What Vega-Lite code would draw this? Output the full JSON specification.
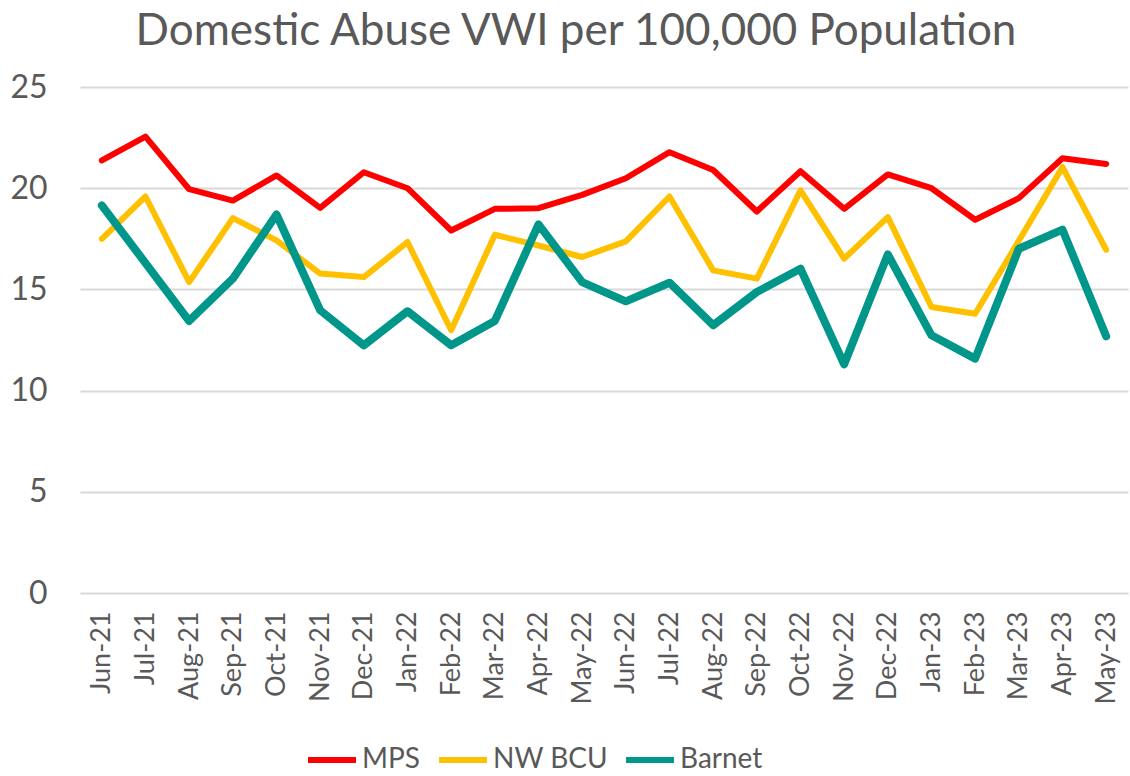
{
  "$schema": "https://vega.github.io/schema/vega-lite/v6.json",
  "autosize": {"type": "none"},
  "width": 1048,
  "height": 506,
  "padding": {"left": 80, "top": 87, "right": 2, "bottom": 183},
  "background": "white",
  "title": {
    "text": "Domestic Abuse VWI per 100,000 Population",
    "font": "Lato",
    "fontSize": 44,
    "fontWeight": "normal",
    "color": "#595959",
    "anchor": "middle",
    "dx": -28,
    "offset": 17
  },
  "config": {
    "view": {"stroke": null},
    "font": "Lato"
  },
  "data": {
    "values": [
      {"month": "Jun-21", "series": "MPS", "value": 21.37},
      {"month": "Jul-21", "series": "MPS", "value": 22.55},
      {"month": "Aug-21", "series": "MPS", "value": 19.95},
      {"month": "Sep-21", "series": "MPS", "value": 19.39},
      {"month": "Oct-21", "series": "MPS", "value": 20.63},
      {"month": "Nov-21", "series": "MPS", "value": 19.03},
      {"month": "Dec-21", "series": "MPS", "value": 20.79},
      {"month": "Jan-22", "series": "MPS", "value": 20.0},
      {"month": "Feb-22", "series": "MPS", "value": 17.91},
      {"month": "Mar-22", "series": "MPS", "value": 18.98},
      {"month": "Apr-22", "series": "MPS", "value": 19.01},
      {"month": "May-22", "series": "MPS", "value": 19.67},
      {"month": "Jun-22", "series": "MPS", "value": 20.49},
      {"month": "Jul-22", "series": "MPS", "value": 21.78},
      {"month": "Aug-22", "series": "MPS", "value": 20.9},
      {"month": "Sep-22", "series": "MPS", "value": 18.85},
      {"month": "Oct-22", "series": "MPS", "value": 20.84},
      {"month": "Nov-22", "series": "MPS", "value": 18.98},
      {"month": "Dec-22", "series": "MPS", "value": 20.68},
      {"month": "Jan-23", "series": "MPS", "value": 20.0},
      {"month": "Feb-23", "series": "MPS", "value": 18.44},
      {"month": "Mar-23", "series": "MPS", "value": 19.51},
      {"month": "Apr-23", "series": "MPS", "value": 21.48},
      {"month": "May-23", "series": "MPS", "value": 21.2},
      {"month": "Jun-21", "series": "NW BCU", "value": 17.5},
      {"month": "Jul-21", "series": "NW BCU", "value": 19.59},
      {"month": "Aug-21", "series": "NW BCU", "value": 15.36},
      {"month": "Sep-21", "series": "NW BCU", "value": 18.52},
      {"month": "Oct-21", "series": "NW BCU", "value": 17.42},
      {"month": "Nov-21", "series": "NW BCU", "value": 15.78},
      {"month": "Dec-21", "series": "NW BCU", "value": 15.61},
      {"month": "Jan-22", "series": "NW BCU", "value": 17.34},
      {"month": "Feb-22", "series": "NW BCU", "value": 12.98},
      {"month": "Mar-22", "series": "NW BCU", "value": 17.7},
      {"month": "Apr-22", "series": "NW BCU", "value": 17.17},
      {"month": "May-22", "series": "NW BCU", "value": 16.6},
      {"month": "Jun-22", "series": "NW BCU", "value": 17.37},
      {"month": "Jul-22", "series": "NW BCU", "value": 19.59},
      {"month": "Aug-22", "series": "NW BCU", "value": 15.94},
      {"month": "Sep-22", "series": "NW BCU", "value": 15.53},
      {"month": "Oct-22", "series": "NW BCU", "value": 19.89},
      {"month": "Nov-22", "series": "NW BCU", "value": 16.52},
      {"month": "Dec-22", "series": "NW BCU", "value": 18.57},
      {"month": "Jan-23", "series": "NW BCU", "value": 14.13},
      {"month": "Feb-23", "series": "NW BCU", "value": 13.8},
      {"month": "Mar-23", "series": "NW BCU", "value": 17.4},
      {"month": "Apr-23", "series": "NW BCU", "value": 21.04},
      {"month": "May-23", "series": "NW BCU", "value": 16.96},
      {"month": "Jun-21", "series": "Barnet", "value": 19.15},
      {"month": "Jul-21", "series": "Barnet", "value": 16.3},
      {"month": "Aug-21", "series": "Barnet", "value": 13.44},
      {"month": "Sep-21", "series": "Barnet", "value": 15.53},
      {"month": "Oct-21", "series": "Barnet", "value": 18.7},
      {"month": "Nov-21", "series": "Barnet", "value": 13.97},
      {"month": "Dec-21", "series": "Barnet", "value": 12.24},
      {"month": "Jan-22", "series": "Barnet", "value": 13.92},
      {"month": "Feb-22", "series": "Barnet", "value": 12.24},
      {"month": "Mar-22", "series": "Barnet", "value": 13.44},
      {"month": "Apr-22", "series": "Barnet", "value": 18.21},
      {"month": "May-22", "series": "Barnet", "value": 15.36},
      {"month": "Jun-22", "series": "Barnet", "value": 14.41},
      {"month": "Jul-22", "series": "Barnet", "value": 15.33},
      {"month": "Aug-22", "series": "Barnet", "value": 13.23},
      {"month": "Sep-22", "series": "Barnet", "value": 14.87},
      {"month": "Oct-22", "series": "Barnet", "value": 16.02},
      {"month": "Nov-22", "series": "Barnet", "value": 11.3},
      {"month": "Dec-22", "series": "Barnet", "value": 16.73},
      {"month": "Jan-23", "series": "Barnet", "value": 12.73},
      {"month": "Feb-23", "series": "Barnet", "value": 11.58},
      {"month": "Mar-23", "series": "Barnet", "value": 17.01},
      {"month": "Apr-23", "series": "Barnet", "value": 17.95},
      {"month": "May-23", "series": "Barnet", "value": 12.68}
    ]
  },
  "encoding": {
    "x": {
      "field": "month",
      "type": "ordinal",
      "sort": null,
      "scale": {"type": "point", "padding": 0.5},
      "axis": {
        "title": null,
        "labelAngle": -90,
        "labelAlign": "right",
        "labelBaseline": "middle",
        "labelFontSize": 27,
        "labelColor": "#595959",
        "labelPadding": 18,
        "ticks": false,
        "domain": false,
        "grid": false
      }
    },
    "y": {
      "field": "value",
      "type": "quantitative",
      "scale": {"domain": [0, 25], "nice": false},
      "axis": {
        "title": null,
        "values": [0, 5, 10, 15, 20, 25],
        "labelFontSize": 32,
        "labelColor": "#595959",
        "labelPadding": 33,
        "ticks": false,
        "domain": false,
        "grid": true,
        "gridColor": "#d9d9d9",
        "gridWidth": 2
      }
    },
    "color": {
      "field": "series",
      "type": "nominal",
      "scale": {"domain": ["MPS", "NW BCU", "Barnet"], "range": ["#FF0000", "#FFC000", "#00968A"]},
      "legend": {
        "title": null,
        "orient": "none",
        "direction": "horizontal",
        "legendX": 225,
        "legendY": 646,
        "symbolType": "stroke",
        "symbolSize": 2300,
        "symbolStrokeWidth": 6,
        "labelFontSize": 28,
        "labelColor": "#595959",
        "labelOffset": 3,
        "columnPadding": 6
      }
    }
  },
  "layer": [
    {
      "transform": [{"filter": "datum.series === 'MPS'"}],
      "mark": {"type": "line", "strokeWidth": 6, "strokeCap": "round", "strokeJoin": "round"}
    },
    {
      "transform": [{"filter": "datum.series === 'NW BCU'"}],
      "mark": {"type": "line", "strokeWidth": 6, "strokeCap": "round", "strokeJoin": "round"}
    },
    {
      "transform": [{"filter": "datum.series === 'Barnet'"}],
      "mark": {"type": "line", "strokeWidth": 8, "strokeCap": "round", "strokeJoin": "round"}
    }
  ]
}
